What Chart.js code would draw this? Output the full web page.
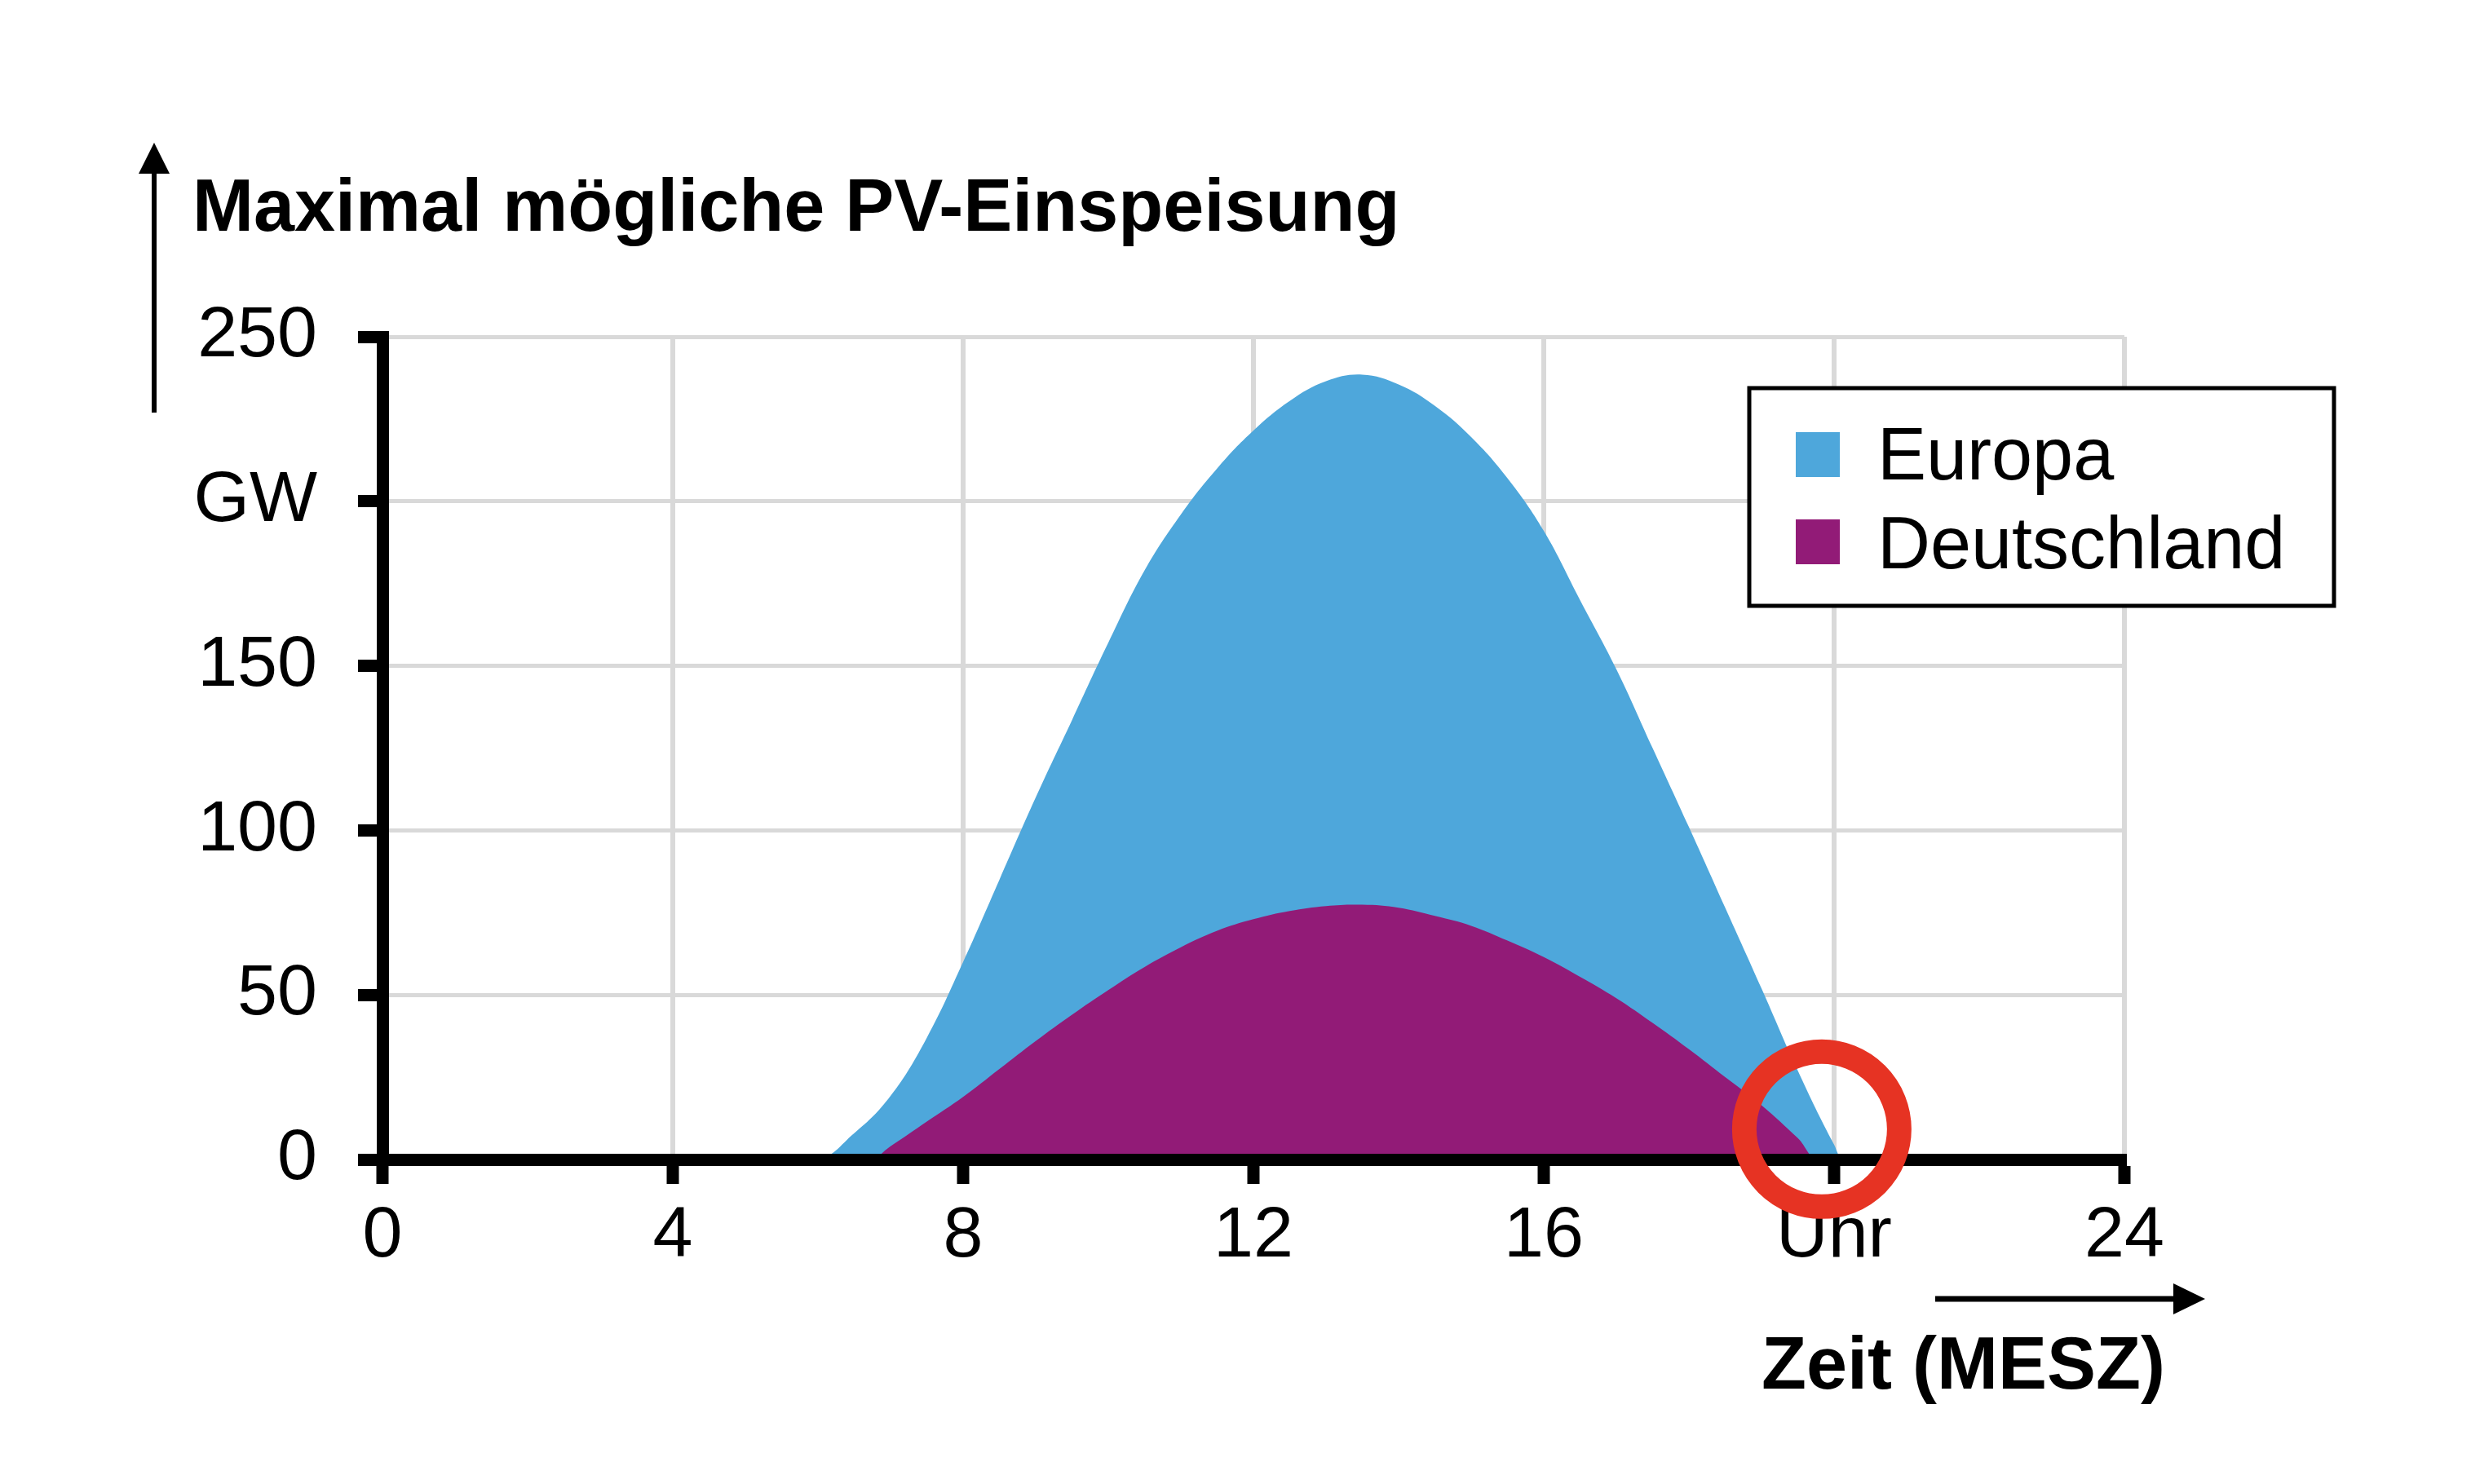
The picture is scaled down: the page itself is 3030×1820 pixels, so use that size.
<!DOCTYPE html>
<html>
<head>
<meta charset="utf-8">
<script src="https://cdn.jsdelivr.net/npm/chart.js@4.4.1/dist/chart.umd.min.js"></script>
<style>
  html, body { margin: 0; padding: 0; background: #ffffff; }
  canvas { display: block; }
</style>
</head>
<body>
<canvas id="c" width="3030" height="1820"></canvas>
<script>
// ---- data ----
const europaHours = [0, 5.95, 6.5, 7, 7.5, 8, 8.5, 9, 9.5, 10, 10.5, 11, 11.5, 12, 12.5, 13, 13.5, 14, 14.5, 15, 15.5, 16, 16.5, 17, 17.5, 18, 18.5, 19, 19.5, 20, 20.15, 24];
const europaValues = [0, 0, 8, 19.3, 37, 60, 85, 110, 133.5, 157, 179, 196, 210, 221.5, 230.5, 236.5, 238.5, 235.5, 229, 219.5, 207, 191, 170, 149, 125, 101, 76.5, 52, 27, 4.5, 0, 0];
const deutschHours = [0, 6.7, 7, 7.5, 8, 8.5, 9, 9.5, 10, 10.5, 11, 11.5, 12, 12.5, 13, 13.5, 14, 14.5, 15, 15.5, 16, 16.5, 17, 17.5, 18, 18.5, 19, 19.5, 19.8, 24];
const deutschValues = [0, 0, 4, 11.5, 19, 27.5, 36, 44, 51.5, 58.5, 64.5, 69.5, 73, 75.5, 77, 77.4, 76.5, 74, 71, 66.5, 61.5, 55.5, 49, 41.5, 33.5, 25, 16.5, 6.5, 0, 0];
const seriesNames = ['Europa', 'Deutschland'];
const xTickLabels = {0: '0', 4: '4', 8: '8', 12: '12', 16: '16', 20: 'Uhr', 24: '24'};
const yTickLabels = {0: '0', 50: '50', 100: '100', 150: '150', 200: 'GW', 250: '250'};
const titleText = 'Maximal mögliche PV-Einspeisung';
const xTitleText = 'Zeit (MESZ)';
const markHour = 19.83;   // red circle marker (data coords)
const markValue = 9.2;

// ---- styles ----
const BLUE = '#4EA7DB';
const PURPLE = '#921B77';
const RED = '#E63323';
const GRID = '#D9D9D9';
const FONT = '"Liberation Sans", Arial, Helvetica, sans-serif';

function pts(xs, ys) { return xs.map((x, i) => ({x: x, y: ys[i]})); }

const decorPlugin = {
  id: 'decor',
  afterDraw(chart) {
    const ctx = chart.ctx;
    ctx.save();
    // title
    ctx.fillStyle = '#000';
    ctx.textBaseline = 'alphabetic';
    ctx.textAlign = 'left';
    ctx.font = 'bold 90px ' + FONT;
    ctx.fillText(titleText, 236, 283);
    // x title
    ctx.font = 'bold 90px ' + FONT;
    ctx.fillText(xTitleText, 2160, 1703);
    // up arrow
    ctx.strokeStyle = '#000';
    ctx.lineWidth = 6;
    ctx.beginPath(); ctx.moveTo(189, 506); ctx.lineTo(189, 205); ctx.stroke();
    ctx.beginPath(); ctx.moveTo(189, 175); ctx.lineTo(208, 213); ctx.lineTo(170, 213); ctx.closePath(); ctx.fill();
    // right arrow
    ctx.lineWidth = 7;
    ctx.beginPath(); ctx.moveTo(2373, 1593); ctx.lineTo(2672, 1593); ctx.stroke();
    ctx.beginPath(); ctx.moveTo(2704, 1593); ctx.lineTo(2665, 1574); ctx.lineTo(2665, 1612); ctx.closePath(); ctx.fill();
    // legend
    const lx = 2145, ly = 476, lw = 717, lh = 267;
    ctx.fillStyle = '#fff';
    ctx.fillRect(lx, ly, lw, lh);
    ctx.lineWidth = 5;
    ctx.strokeStyle = '#000';
    ctx.strokeRect(lx, ly, lw, lh);
    ctx.font = '90px ' + FONT;
    chart.data.datasets.forEach((ds, i) => {
      const sy = 530 + i * 107;
      ctx.fillStyle = ds.backgroundColor;
      ctx.fillRect(2202, sy, 54, 55);
      ctx.fillStyle = '#000';
      ctx.fillText(ds.label, 2302, 588 + i * 109);
    });
    // red circle marker
    const cx = chart.scales.x.getPixelForValue(markHour);
    const cy = chart.scales.y.getPixelForValue(markValue);
    ctx.strokeStyle = RED;
    ctx.lineWidth = 30;
    ctx.beginPath();
    ctx.arc(cx, cy, 95, 0, Math.PI * 2);
    ctx.stroke();
    ctx.restore();
  }
};

new Chart(document.getElementById('c'), {
  type: 'line',
  data: {
    datasets: [
      {
        label: seriesNames[0],
        data: pts(europaHours, europaValues),
        backgroundColor: BLUE,
        borderColor: BLUE,
        borderWidth: 0,
        pointRadius: 0,
        fill: 'origin',
        tension: 0.4,
        order: 2
      },
      {
        label: seriesNames[1],
        data: pts(deutschHours, deutschValues),
        backgroundColor: PURPLE,
        borderColor: PURPLE,
        borderWidth: 0,
        pointRadius: 0,
        fill: 'origin',
        tension: 0.4,
        order: 1
      }
    ]
  },
  options: {
    responsive: false,
    animation: false,
    devicePixelRatio: 1,
    layout: { padding: { left: 0, right: 425, top: 413, bottom: 198 } },
    plugins: {
      legend: { display: false },
      tooltip: { enabled: false }
    },
    scales: {
      x: {
        type: 'linear',
        min: 0, max: 24,
        afterFit(s) { s.height = 200; },
        afterBuildTicks(s) { s.ticks = Object.keys(xTickLabels).map(v => ({value: +v})); },
        ticks: {
          callback: (v) => xTickLabels[v],
          color: '#000',
          font: { family: FONT, size: 88 },
          padding: 12,
          maxRotation: 0,
          autoSkip: false
        },
        grid: {
          color: GRID,
          lineWidth: 6,
          tickColor: '#000',
          tickWidth: 15,
          tickLength: 30
        },
        border: { display: true, color: '#000', width: 15, z: 1 }
      },
      y: {
        type: 'linear',
        min: 0, max: 250,
        afterFit(s) { s.width = 469; },
        afterBuildTicks(s) { s.ticks = Object.keys(yTickLabels).map(v => ({value: +v})); },
        ticks: {
          callback: (v) => yTickLabels[v],
          color: '#000',
          font: { family: FONT, size: 88 },
          padding: 50,
          autoSkip: false
        },
        grid: {
          color: GRID,
          lineWidth: 5,
          tickColor: '#000',
          tickWidth: 15,
          tickLength: 30
        },
        border: { display: true, color: '#000', width: 15, z: 1 }
      }
    }
  },
  plugins: [decorPlugin]
});
</script>
</body>
</html>
